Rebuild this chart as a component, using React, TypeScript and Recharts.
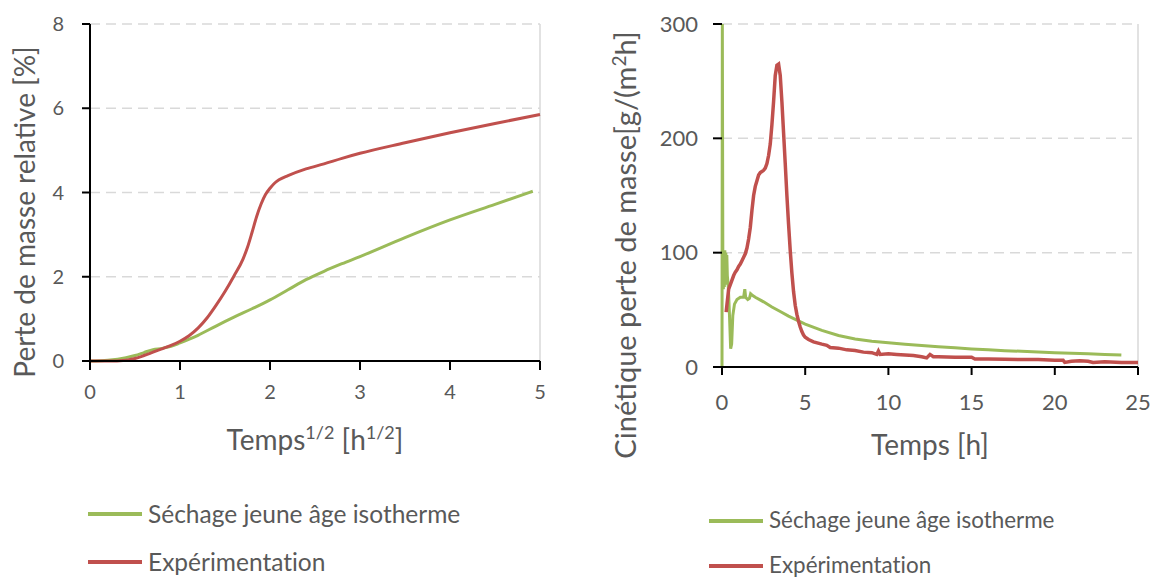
import { LineChart, Line, XAxis, YAxis, CartesianGrid, ReferenceLine, Legend, Label } from "recharts";

const FONT = "Lato, 'Open Sans', sans-serif";
const GREY = "#595959";
const GREEN = "#9bbb59";
const RED = "#c0504d";
const GRID = "#d9d9d9";

const SIM_NAME = "Séchage jeune âge isotherme";
const EXP_NAME = "Expérimentation";
const legendOrder = [SIM_NAME, EXP_NAME];

// left chart: relative mass loss vs sqrt(time)
const sqrtTicks = [0, 1, 2, 3, 4, 5];
const lossTicks = [0, 2, 4, 6, 8];

const simSqrtT = [0, 0.2, 0.4, 0.5, 0.6, 0.7, 0.8, 0.9, 1.0, 1.2, 1.4, 1.6, 1.8, 2.0, 2.2, 2.4, 2.6, 2.8, 3.0, 3.5, 4.0, 4.5, 4.92];
const simLoss = [0, 0.02, 0.08, 0.13, 0.2, 0.27, 0.3, 0.35, 0.43, 0.61, 0.83, 1.04, 1.24, 1.45, 1.69, 1.93, 2.13, 2.31, 2.48, 2.93, 3.35, 3.72, 4.03];

const expSqrtT = [0, 0.2, 0.4, 0.5, 0.6, 0.7, 0.8, 0.9, 1.0, 1.1, 1.2, 1.3, 1.4, 1.5, 1.6, 1.7, 1.75, 1.8, 1.85, 1.9, 1.95, 2.0, 2.05, 2.1, 2.2, 2.4, 2.6, 2.8, 3.0, 3.5, 4.0, 4.5, 5.0];
const expLoss = [0, 0, 0.02, 0.06, 0.13, 0.21, 0.29, 0.37, 0.47, 0.6, 0.78, 1.02, 1.32, 1.65, 2.02, 2.42, 2.7, 3.05, 3.42, 3.72, 3.95, 4.1, 4.22, 4.3, 4.4, 4.56, 4.68, 4.81, 4.93, 5.18, 5.42, 5.64, 5.85];

// right chart: mass loss rate vs time
const timeTicks = [0, 5, 10, 15, 20, 25];
const rateTicks = [0, 100, 200, 300];

const simT = [0, 0.02, 0.05, 0.08, 0.11, 0.14, 0.17, 0.2, 0.23, 0.26, 0.29, 0.32, 0.38, 0.45, 0.52, 0.58, 0.65, 0.75, 0.9, 1.1, 1.3, 1.37, 1.42, 1.55, 1.65, 1.72, 1.8, 2, 2.5, 3, 3.5, 4, 4.5, 5, 6, 7, 8, 9, 10, 11, 12, 13, 14, 15, 16, 17, 18, 19, 20, 21, 22, 23, 24];
const simRate = [0, 300, 100, 68, 100, 70, 102, 72, 100, 75, 98, 80, 70, 45, 16, 20, 45, 55, 59, 61, 61, 68, 61, 59, 60, 64, 63, 61, 57, 52.5, 48.5, 44.5, 41, 37.5, 32, 27.5, 24.5, 22.5, 21.2, 20, 18.8, 17.8, 16.8, 15.8, 15, 14.3, 13.7, 13.1, 12.5, 12, 11.5, 11, 10.5];

const expT = [0.25, 0.3, 0.4, 0.5, 0.6, 0.7, 0.8, 0.9, 1.0, 1.1, 1.2, 1.3, 1.4, 1.5, 1.6, 1.7, 1.8, 1.9, 2.0, 2.1, 2.2, 2.3, 2.4, 2.5, 2.6, 2.7, 2.8, 2.9, 3.0, 3.1, 3.2, 3.3, 3.4, 3.5, 3.6, 3.7, 3.8, 3.9, 4.0, 4.1, 4.2, 4.3, 4.4, 4.5, 4.6, 4.7, 4.8, 4.9, 5.0, 5.2, 5.5, 6.0, 6.3, 6.5, 7.0, 7.5, 8.0, 8.5, 9.0, 9.3, 9.4, 9.5, 10, 10.5, 11, 11.5, 12, 12.3, 12.5, 12.7, 13, 14, 15, 15.2, 16, 17, 18, 19, 20, 20.5, 20.6, 21, 21.5, 22, 22.3, 23, 24, 25];
const expRate = [48, 55, 68, 72, 76, 80, 83, 85, 88, 90, 93, 96, 99, 104, 112, 122, 137, 150, 158, 163, 168, 170, 171, 172, 174, 178, 185, 195, 212, 232, 255, 264, 265, 255, 232, 205, 178, 150, 125, 102, 82, 66, 54, 46, 40, 35, 31, 28, 26, 24, 22, 20, 19, 17, 16.5, 15, 14.5, 13, 12.5, 11, 14, 11, 11.5, 11, 10.5, 10, 9, 8, 11, 9, 9, 8.5, 8.5, 7, 7, 6.8, 6.5, 6.5, 6, 6, 4, 5, 5.5, 5, 4, 4.5, 4, 4];

const zip = (xs: number[], ys: number[]) => xs.map((x, i) => ({ x, y: ys[i] }));

const axisLine = { stroke: "#000", strokeWidth: 2 };

const makeLegend = (fontSize: number, rowHeight: number) => (props: any) => {
  const items = [...(props.payload || [])].sort(
    (a: any, b: any) => legendOrder.indexOf(a.value) - legendOrder.indexOf(b.value)
  );
  return (
    <div style={{ fontFamily: FONT, fontSize, color: GREY, lineHeight: 1, fontVariantLigatures: "none" }}>
      {items.map((entry: any) => (
        <div key={entry.value} style={{ display: "flex", alignItems: "center", height: rowHeight, whiteSpace: "nowrap" }}>
          <span style={{ display: "inline-block", width: 54, height: 4, background: entry.color, marginRight: 6 }} />
          <span>{entry.value}</span>
        </div>
      ))}
    </div>
  );
};

const leftXTitle = ({ viewBox }: any) => (
  <text x={viewBox.x + viewBox.width / 2} y={viewBox.y + 89} textAnchor="middle" fill={GREY} fontSize={28} fontFamily={FONT}>
    Temps<tspan dy={-11} fontSize={18}>1/2</tspan>
    <tspan dy={11}> [h</tspan>
    <tspan dy={-11} fontSize={18}>1/2</tspan>
    <tspan dy={11}>]</tspan>
  </text>
);

const leftYTitle = ({ viewBox }: any) => {
  const cx = viewBox.x + 35;
  const cy = viewBox.y + 188;
  return (
    <text x={cx} y={cy} transform={`rotate(-90 ${cx} ${cy})`} textAnchor="middle" fill={GREY} fontSize={28} fontFamily={FONT}>
      Perte de masse relative [%]
    </text>
  );
};

const rightXTitle = ({ viewBox }: any) => (
  <text x={viewBox.x + viewBox.width / 2} y={viewBox.y + 88} textAnchor="middle" fill={GREY} fontSize={28} fontFamily={FONT}>
    Temps [h]
  </text>
);

const rightYTitle = ({ viewBox }: any) => {
  const cx = viewBox.x + 36;
  const cy = viewBox.y + 221;
  return (
    <text x={cx} y={cy} transform={`rotate(-90 ${cx} ${cy})`} textAnchor="middle" fill={GREY} fontSize={29} fontFamily={FONT}>
      Cinétique perte de masse[g/(m<tspan dy={-10} fontSize={19}>2</tspan>
      <tspan dy={10}>h]</tspan>
    </text>
  );
};

function MassLossChart() {
  return (
    <LineChart width={560} height={577} margin={{ top: 24, right: 20, bottom: 176, left: 0 }}>
      <CartesianGrid vertical={false} stroke={GRID} strokeWidth={1.5} strokeDasharray="10 6" />
      <ReferenceLine x={5} stroke={GRID} strokeWidth={1.5} />
      <XAxis
        dataKey="x"
        type="number"
        domain={[0, 5]}
        ticks={sqrtTicks}
        height={40}
        tickSize={9}
        tickMargin={15}
        axisLine={axisLine}
        tickLine={axisLine}
        tick={{ fill: GREY, fontSize: 20, fontFamily: FONT }}
      >
        <Label content={leftXTitle} />
      </XAxis>
      <YAxis
        type="number"
        domain={[0, 8]}
        ticks={lossTicks}
        width={90}
        tickSize={8}
        tickMargin={18}
        axisLine={axisLine}
        tickLine={axisLine}
        tick={{ fill: GREY, fontSize: 20, fontFamily: FONT }}
      >
        <Label content={leftYTitle} />
      </YAxis>
      <Line data={zip(simSqrtT, simLoss)} dataKey="y" name={SIM_NAME} type="monotone" stroke={GREEN} strokeWidth={3} dot={false} isAnimationActive={false} />
      <Line data={zip(expSqrtT, expLoss)} dataKey="y" name={EXP_NAME} type="monotone" stroke={RED} strokeWidth={3} dot={false} isAnimationActive={false} />
      <Legend
        layout="vertical"
        align="center"
        verticalAlign="middle"
        content={makeLegend(24.5, 48)}
        wrapperStyle={{ left: 88, top: 490, width: 460, height: 96 }}
      />
    </LineChart>
  );
}

function RateChart() {
  return (
    <LineChart width={560} height={577} margin={{ top: 24, right: 22, bottom: 170, left: 0 }}>
      <CartesianGrid vertical={false} stroke={GRID} strokeWidth={1.5} strokeDasharray="10 6" />
      <ReferenceLine x={25} stroke={GRID} strokeWidth={1.5} />
      <XAxis
        dataKey="x"
        type="number"
        domain={[0, 25]}
        ticks={timeTicks}
        height={40}
        tickSize={8}
        tickMargin={19}
        axisLine={axisLine}
        tickLine={axisLine}
        tick={{ fill: GREY, fontSize: 22, fontFamily: FONT }}
      >
        <Label content={rightXTitle} />
      </XAxis>
      <YAxis
        type="number"
        domain={[0, 300]}
        ticks={rateTicks}
        width={122}
        tickSize={9}
        tickMargin={15}
        axisLine={false}
        tickLine={axisLine}
        tick={{ fill: GREY, fontSize: 22, fontFamily: FONT }}
      >
        <Label content={rightYTitle} />
      </YAxis>
      <Line data={zip(simT, simRate)} dataKey="y" name={SIM_NAME} type="linear" stroke={GREEN} strokeWidth={3} dot={false} isAnimationActive={false} />
      <Line data={zip(expT, expRate)} dataKey="y" name={EXP_NAME} type="linear" stroke={RED} strokeWidth={3.5} dot={false} isAnimationActive={false} />
      <Legend
        layout="vertical"
        align="center"
        verticalAlign="middle"
        content={makeLegend(22.4, 45)}
        wrapperStyle={{ left: 109, top: 498, width: 440, height: 90 }}
      />
    </LineChart>
  );
}

export default function App() {
  return (
    <div style={{ position: "absolute", left: 0, top: 0, width: 1160, height: 577, background: "#fff" }}>
      <div style={{ position: "absolute", left: 0, top: 0 }}>
        <MassLossChart />
      </div>
      <div style={{ position: "absolute", left: 600, top: 0 }}>
        <RateChart />
      </div>
    </div>
  );
}
